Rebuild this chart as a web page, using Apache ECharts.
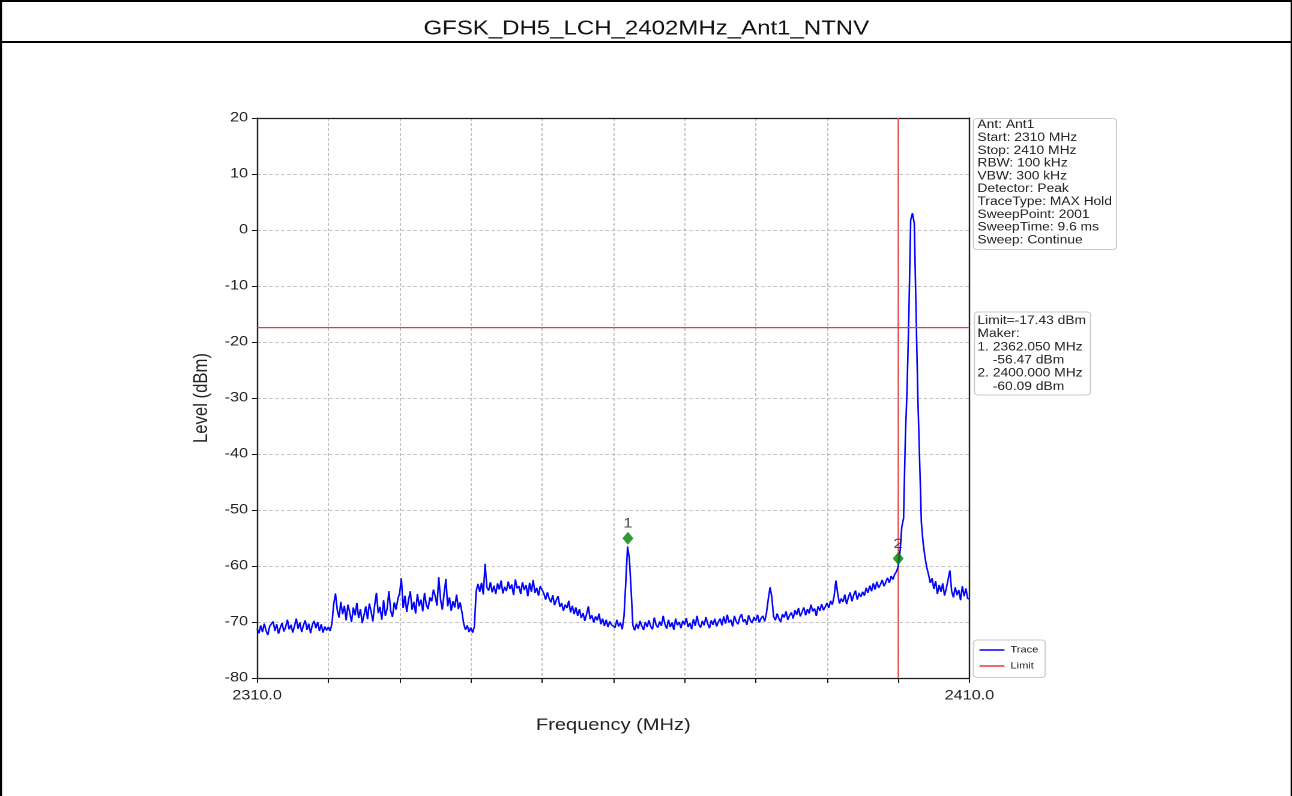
<!DOCTYPE html>
<html>
<head>
<meta charset="utf-8">
<script src="https://cdn.jsdelivr.net/npm/echarts@6/dist/echarts.min.js"></script>
<style>
  html, body { margin: 0; padding: 0; background: #fff; }
  #wrap { width: 1292px; height: 796px; overflow: hidden; position: relative; background: #fff; }
  #chart { width: 1076.6667px; height: 796px; transform: scaleX(1.2); transform-origin: 0 0; }
</style>
</head>
<body>
<div id="wrap"><div id="chart"></div></div>
<script>
// ---------------- data ----------------
const chartTitle = 'GFSK_DH5_LCH_2402MHz_Ant1_NTNV';
const freqMin = 2310, freqMax = 2410, freqTickStep = 10;
const levelMin = -80, levelMax = 20, levelTickStep = 10;
const xLabelValues = [2310, 2410];

const traceStart = 2310, traceStep = 0.25;
const traceLevels = [
  -71.2,-72.0,-70.6,-71.8,-70.3,-71.5,-72.3,-70.8,-71.0,-69.9,-71.6,-70.4,-72.1,-71.0,-70.2,-71.7,-70.9,-69.6,-71.3,-70.5,
  -71.9,-70.7,-69.4,-71.2,-70.1,-71.8,-70.6,-69.7,-71.4,-70.3,-72.0,-70.5,-69.8,-71.1,-70.0,-71.6,-70.4,-71.9,-70.8,-71.5,
  -70.9,-71.6,-70.3,-66.8,-64.9,-67.9,-69.2,-66.4,-68.6,-67.1,-69.7,-66.9,-68.3,-70.0,-67.4,-68.8,-66.6,-69.3,-67.7,-70.2,
  -68.8,-67.2,-69.5,-66.7,-68.1,-69.9,-67.0,-64.8,-68.4,-67.3,-69.6,-66.1,-68.9,-67.6,-64.5,-68.0,-69.1,-66.5,-67.8,-65.9,
  -64.9,-62.2,-67.5,-65.3,-68.2,-66.1,-64.5,-67.8,-66.4,-68.5,-65.0,-67.2,-66.0,-68.1,-64.8,-66.9,-67.7,-65.6,-66.3,-64.2,
  -65.4,-67.1,-62.0,-66.0,-67.8,-64.9,-62.3,-67.2,-65.6,-68.0,-66.3,-67.4,-65.1,-67.7,-66.5,-68.2,-70.3,-71.4,-70.6,-71.8,
  -71.0,-71.9,-70.8,-64.5,-63.2,-64.6,-63.0,-65.1,-59.6,-63.8,-64.4,-62.9,-64.7,-63.5,-65.0,-63.1,-64.2,-62.6,-64.9,-63.7,
  -64.5,-62.8,-64.1,-63.3,-65.2,-62.4,-64.0,-63.6,-65.0,-62.9,-64.3,-63.4,-65.4,-63.0,-64.6,-62.5,-64.8,-63.9,-65.3,-63.6,
  -63.4,-64.9,-66.0,-64.7,-65.8,-66.5,-65.2,-67.0,-66.1,-65.4,-67.3,-66.6,-68.0,-66.9,-67.5,-66.2,-68.3,-67.1,-68.6,-67.4,
  -68.9,-67.7,-69.3,-68.4,-69.8,-68.6,-67.2,-69.5,-68.8,-70.1,-69.0,-69.7,-68.5,-70.4,-69.4,-70.7,-69.6,-70.9,-69.9,-70.5,
  -70.2,-71.0,-69.6,-70.8,-70.1,-71.3,-69.0,-63.0,-56.5,-58.6,-64.2,-70.6,-71.5,-70.3,-71.2,-69.8,-70.7,-71.4,-70.0,-70.9,
  -69.7,-70.8,-71.3,-69.2,-70.5,-71.0,-69.9,-70.7,-68.9,-70.4,-71.2,-69.6,-70.9,-70.1,-71.4,-69.4,-70.6,-70.0,-71.1,-69.8,
  -70.5,-69.3,-70.9,-70.2,-71.3,-69.5,-70.7,-68.9,-70.4,-71.0,-69.8,-70.6,-69.1,-70.3,-71.1,-69.7,-70.5,-69.4,-70.8,-70.0,
  -69.4,-70.6,-69.0,-70.3,-68.7,-70.1,-69.6,-70.8,-68.9,-69.9,-70.4,-69.2,-68.6,-70.0,-69.5,-70.5,-68.8,-69.7,-70.2,-69.1,
  -69.8,-68.7,-70.1,-69.3,-68.9,-69.9,-68.4,-66.0,-63.8,-65.5,-69.0,-69.7,-68.5,-69.4,-70.0,-68.6,-69.2,-68.1,-69.6,-68.8,
  -68.3,-69.4,-67.9,-68.7,-67.5,-69.0,-68.2,-67.4,-68.8,-67.7,-68.5,-66.9,-68.1,-67.6,-68.9,-67.2,-68.0,-66.8,-67.9,-67.3,
  -66.6,-67.5,-66.2,-66.9,-65.4,-62.6,-64.9,-66.7,-65.8,-66.4,-65.1,-66.8,-65.6,-64.7,-66.3,-65.2,-64.4,-66.0,-64.8,-65.5,
  -64.6,-65.3,-63.9,-64.8,-63.5,-64.5,-63.1,-64.2,-62.8,-63.9,-63.3,-62.5,-63.6,-62.9,-62.1,-63.0,-61.8,-62.4,-61.5,-61.0,
  -60.09,-57.5,-53.0,-51.5,-37.0,-28.0,-14.8,1.8,3.0,1.2,-14.3,-29.8,-41.0,-52.3,-55.9,-58.4,-60.2,-61.5,-63.0,-62.2,
  -64.1,-62.7,-65.0,-63.4,-64.6,-63.1,-65.3,-64.0,-62.4,-60.8,-64.5,-65.6,-63.8,-65.2,-64.3,-66.1,-63.6,-65.4,-64.0,-65.8,
  -65.9
];

const limitLevel = -17.43;
const bandEdgeFreq = 2400;

const markerNames = ['1', '2'];
const markerFreqs = [2362.05, 2400.0];
const markerLevels = [-56.47, -60.09];

const infoLines = [
  'Ant: Ant1',
  'Start: 2310 MHz',
  'Stop: 2410 MHz',
  'RBW: 100 kHz',
  'VBW: 300 kHz',
  'Detector: Peak',
  'TraceType: MAX Hold',
  'SweepPoint: 2001',
  'SweepTime: 9.6 ms',
  'Sweep: Continue'
];
const legendNames = ['Trace', 'Limit'];

// ---------------- build ----------------
const SX = 1.2; // horizontal stretch of the reference picture
const px = v => v / SX;
const FONT = '"Liberation Sans", Arial, Helvetica, sans-serif';
const RED = '#e63c3c';

const traceData = traceLevels.map((v, i) => [traceStart + i * traceStep, v]);
const limitData = [[freqMin, limitLevel], [freqMax, limitLevel]];
const edgeData = [[bandEdgeFreq, levelMin], [bandEdgeFreq, levelMax]];
const markerData = markerFreqs.map((f, i) => ({ value: [f, markerLevels[i]], name: markerNames[i] }));

const markerLines = ['Limit=' + limitLevel.toFixed(2) + ' dBm', 'Maker:'];
markerFreqs.forEach((f, i) => {
  markerLines.push((i + 1) + '. ' + f.toFixed(3) + ' MHz');
  markerLines.push('    ' + markerLevels[i].toFixed(2) + ' dBm');
});

const axisColor = '#1a1a1a';
const chart = echarts.init(document.getElementById('chart'), null, { renderer: 'canvas', devicePixelRatio: 2, width: 1292 / SX, height: 796 });

const spine = { show: true, onZero: false, lineStyle: { color: axisColor, width: 1.2 } };
const gridLine = { show: true, lineStyle: { color: '#b0b0b0', type: [3, 2], width: 0.8 } };

chart.setOption({
  animation: false,
  backgroundColor: '#fff',
  textStyle: { fontFamily: FONT },
  grid: { left: px(257), top: 118, width: px(969 - 257), height: 560, show: false },
  xAxis: [{
    type: 'value', min: freqMin, max: freqMax, interval: freqTickStep,
    name: 'Frequency (MHz)', nameLocation: 'middle', nameGap: 39,
    nameTextStyle: { fontSize: 16.7, color: '#222', fontFamily: FONT },
    axisLine: spine,
    axisTick: { show: true, length: 5, lineStyle: { color: axisColor, width: 1 } },
    axisLabel: {
      fontSize: 13.5, color: '#222', margin: 11, fontFamily: FONT,
      showMinLabel: true, showMaxLabel: true,
      formatter: v => (xLabelValues.indexOf(v) >= 0 ? v.toFixed(1) : '')
    },
    splitLine: gridLine, z: 3
  }, {
    type: 'value', position: 'top', min: freqMin, max: freqMax, interval: freqTickStep,
    axisLine: spine, axisTick: { show: false }, axisLabel: { show: false }, splitLine: { show: false }, z: 3
  }],
  yAxis: [{
    type: 'value', min: levelMin, max: levelMax, interval: levelTickStep,
    name: 'Level (dBm)', nameLocation: 'middle', nameGap: 38,
    nameTextStyle: { fontSize: 16.7, color: '#222', fontFamily: FONT },
    axisLine: spine,
    axisTick: { show: true, length: px(5), lineStyle: { color: axisColor, width: 1 } },
    axisLabel: { fontSize: 13.5, color: '#222', margin: px(9), fontFamily: FONT },
    splitLine: gridLine, z: 3
  }, {
    type: 'value', position: 'right', min: levelMin, max: levelMax, interval: levelTickStep,
    axisLine: spine, axisTick: { show: false }, axisLabel: { show: false }, splitLine: { show: false }, z: 3
  }],
  legend: {
    data: legendNames, orient: 'vertical', left: px(973), top: 640,
    icon: 'rect', itemWidth: px(25), itemHeight: 1.6, itemGap: 5,
    padding: [4.5, px(7), 6, px(6)],
    borderColor: '#cccccc', borderWidth: 1, borderRadius: 3, backgroundColor: '#fff',
    textStyle: { fontSize: 9.2, color: '#222', lineHeight: 11, fontFamily: FONT },
    selectedMode: false
  },
  series: [
    {
      name: 'Trace', type: 'line', data: traceData, showSymbol: false, symbol: 'none',
      color: '#0000ff',
      lineStyle: { color: '#0000ff', width: 1.3 }, itemStyle: { color: '#0000ff' }, z: 4, silent: true
    },
    {
      name: 'Limit', type: 'line', data: limitData, showSymbol: false, symbol: 'none',
      color: RED,
      lineStyle: { color: RED, width: 1.3 }, itemStyle: { color: RED }, z: 5, silent: true
    },
    {
      name: 'Band edge', type: 'line', data: edgeData, showSymbol: false, symbol: 'none',
      color: '#ee4a4a',
      lineStyle: { color: '#ee4a4a', width: 1.1 }, itemStyle: { color: '#ee4a4a' }, z: 3, silent: true
    },
    {
      name: 'Markers', type: 'scatter', data: markerData, symbol: 'diamond',
      symbolSize: [px(11), 13], symbolOffset: [0, -8],
      itemStyle: { color: '#008000' }, z: 6, silent: true,
      label: { show: true, position: 'top', distance: 1, formatter: p => p.name, fontSize: 14, color: '#222', fontFamily: FONT }
    }
  ],
  graphic: [
    // page frame
    { type: 'rect', shape: { x: 0, y: 0, width: px(1292), height: 2 }, style: { fill: '#000' }, silent: true },
    { type: 'rect', shape: { x: 0, y: 41, width: px(1292), height: 2 }, style: { fill: '#000' }, silent: true },
    { type: 'rect', shape: { x: 0, y: 0, width: px(2), height: 796 }, style: { fill: '#000' }, silent: true },
    { type: 'rect', shape: { x: px(1290), y: 0, width: px(2), height: 796 }, style: { fill: '#000' }, silent: true },
    {
      type: 'text', x: px(646), y: 29, silent: true,
      style: { text: chartTitle, fontSize: 20, fontFamily: FONT, fill: '#111', align: 'center', verticalAlign: 'middle' }
    },
    // info box
    {
      type: 'rect', shape: { x: px(973), y: 118.5, width: px(1116 - 973), height: 131, r: 3 },
      style: { fill: '#fff', stroke: '#cccccc', lineWidth: 1 }, silent: true, z: 10
    },
    {
      type: 'text', x: px(977), y: 118.6, silent: true, z: 11,
      style: { text: infoLines.join('\n'), fontSize: 11.5, lineHeight: 12.8, fontFamily: FONT, fill: '#222', align: 'left', verticalAlign: 'top' }
    },
    // limit / marker box
    {
      type: 'rect', shape: { x: px(974), y: 312, width: px(1090 - 974), height: 83, r: 3 },
      style: { fill: '#fff', stroke: '#cccccc', lineWidth: 1 }, silent: true, z: 10
    },
    {
      type: 'text', x: px(977), y: 314.1, silent: true, z: 11,
      style: { text: markerLines.join('\n'), fontSize: 11.5, lineHeight: 13.2, fontFamily: FONT, fill: '#222', align: 'left', verticalAlign: 'top' }
    }
  ]
});
</script>
</body>
</html>
